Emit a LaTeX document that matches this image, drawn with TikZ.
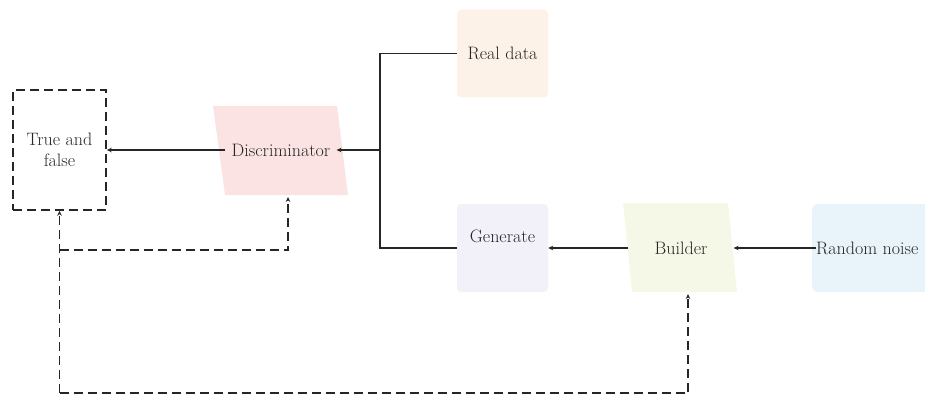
\documentclass[tikz,border=0pt]{standalone}
\usetikzlibrary{arrows.meta}
\definecolor{discc}{HTML}{FAE3E2}
\definecolor{realc}{HTML}{FDF2E7}
\definecolor{genc}{HTML}{F2F0F8}
\definecolor{buildc}{HTML}{F5F8E7}
\definecolor{noisec}{HTML}{E8F4FA}
\definecolor{txtc}{HTML}{262626}
\begin{document}
\begin{tikzpicture}[x=1pt,y=-1pt,
  lbl/.style={font=\fontsize{18}{21}\selectfont, text=txtc, inner sep=0pt},
  box/.style={lbl, minimum width=91pt, minimum height=88pt, rounded corners=4pt},
  plain/.style={line width=1.2pt, draw=black!85},
  conn/.style={plain, -{Stealth[length=5pt,width=4.5pt]}},
  dline/.style={line width=1.5pt, draw=black!85, dash pattern=on 9pt off 5pt},
  dconn/.style={dline, -{Stealth[length=5pt,width=4.5pt]}}
]
\useasboundingbox (0,0) rectangle (925,398);

% shapes
\node[box, fill=realc] (real) at (502.5,53.5) {Real data};
\node[box, fill=genc] (genbox) at (502.5,248) {};
\node[lbl] (gen) at (502.5,236) {Generate};
\node[box, fill=noisec, rounded corners=6pt, minimum width=130pt, anchor=west] (noisebox) at (812,248) {};
\node[lbl, anchor=west] (noise) at (816,248) {Random noise};

\fill[discc] (213,106) -- (337,106) -- (348,195) -- (225,195) -- cycle;
\node[lbl, inner xsep=6pt] (disc) at (281,150) {Discriminator};
\fill[buildc] (623,203) -- (728,203) -- (737,292) -- (632,292) -- cycle;
\node[lbl, inner xsep=26pt] (build) at (681,248) {Builder};

\node[lbl, draw=black!85, line width=1.5pt, dash pattern=on 9pt off 5pt,
      minimum width=93pt, minimum height=120pt, align=center] (tf) at (59.5,150) {True and\\false};

% solid connectors
\coordinate (j) at (380,150);
\draw[plain] (real.west) -| (j) |- (genbox.west);
\draw[conn] (j) -- (disc.east);
\draw[conn] (disc.west) -- (tf.east);
\draw[conn] (build.west) -- (genbox.east);
\draw[conn] (noise.west) -- (build.east);

% dashed feedback
\coordinate (dbot) at (288,197);
\coordinate (bbot) at (688,294);
\coordinate (m1) at (tf.south |- 0,250);
\coordinate (b1) at (tf.south |- 0,393);
\draw[dconn] (b1) -- (tf.south);
\draw[dconn] (m1) -| (dbot);
\draw[dconn] (b1) -| (bbot);
\end{tikzpicture}
\end{document}
